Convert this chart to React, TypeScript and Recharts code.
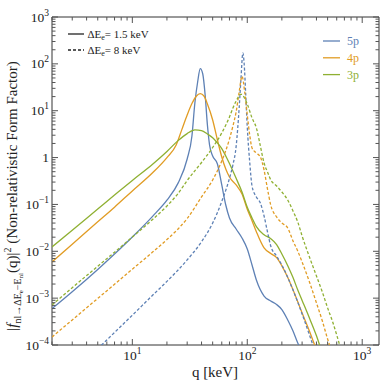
import React from 'react';
import { LineChart, Line, XAxis, YAxis, ReferenceArea } from 'recharts';

const BLUE = '#5E81B5';
const ORANGE = '#E19C24';
const GREEN = '#8FB032';

// ---- data: q [keV] and |f|^2 ----
// 5p, ΔE = 1.5 keV (solid)
const q5pA = [2, 3, 5, 7, 10, 15, 20, 25, 30, 33, 35, 37, 39, 41, 43, 45, 47, 50, 55, 60, 65, 70, 80, 90, 100, 110, 120, 140, 160, 180, 200, 225, 250, 275, 285];
const f5pA = [0.000596, 0.00137, 0.0041, 0.00875, 0.0202, 0.0557, 0.123, 0.285, 0.933, 2.89, 14.6, 41, 78.9, 60.8, 21.6, 4.96, 1.85, 1.08, 0.729, 0.26, 0.0973, 0.0514, 0.0299, 0.0192, 0.0112, 0.0051, 0.00244, 0.00111, 0.00087, 0.00073, 0.00057, 0.000342, 0.000199, 0.00011, 0.000091];
// 4p, ΔE = 1.5 keV (solid)
const q4pA = [2, 3, 5, 7, 10, 15, 20, 24, 27, 30, 33, 36, 39, 42, 45, 50, 55, 60, 65, 70, 80, 90, 100, 110, 120, 140, 160, 180, 200, 225, 250, 275, 300, 350, 380, 400];
const f4pA = [0.00592, 0.01416, 0.0425, 0.0873, 0.194, 0.473, 1.0, 1.83, 4.0, 8.1, 14.2, 20.4, 23.1, 20.6, 13.9, 6.34, 2.37, 1.03, 0.57, 0.385, 0.26, 0.167, 0.0791, 0.045, 0.0261, 0.0118, 0.00898, 0.0073, 0.00488, 0.00276, 0.00151, 0.000836, 0.000484, 0.000189, 0.00011, 0.000078];
// 3p, ΔE = 1.5 keV (solid)
const q3pA = [2, 3, 5, 7, 10, 15, 20, 25, 30, 35, 40, 45, 50, 55, 60, 65, 70, 80, 90, 100, 110, 120, 140, 160, 180, 200, 225, 250, 275, 300, 350, 400, 430];
const f3pA = [0.0124, 0.0282, 0.0797, 0.158, 0.325, 0.72, 1.35, 2.3, 3.25, 3.9, 3.75, 3.18, 2.65, 2.05, 1.55, 1.08, 0.744, 0.36, 0.184, 0.0869, 0.0514, 0.0335, 0.0225, 0.0186, 0.0139, 0.00875, 0.00493, 0.00275, 0.00149, 0.000895, 0.00036, 0.000157, 0.000093];
// 5p, ΔE = 8 keV (dashed)
const q5pB = [5, 7, 10, 15, 20, 30, 40, 50, 60, 70, 75, 80, 85, 88, 91.6, 94, 97, 100, 105, 110, 120, 130, 140, 150, 160, 180, 200, 250, 300, 350, 380];
const f5pB = [0.000083, 0.000185, 0.000433, 0.00115, 0.00228, 0.00655, 0.016, 0.040, 0.116, 0.36, 0.695, 1.73, 11.4, 45.3, 170.6, 99.3, 21.6, 4.5, 0.805, 0.248, 0.144, 0.107, 0.0567, 0.0258, 0.013, 0.0079, 0.0051, 0.00149, 0.00046, 0.000156, 0.000086];
// 4p, ΔE = 8 keV (dashed)
const q4pB = [2, 3, 5, 7, 10, 15, 20, 25, 30, 40, 50, 60, 70, 75, 80, 85, 90, 95, 100, 105, 110, 120, 130, 140, 150, 160, 180, 200, 225, 250, 275, 300, 350, 400, 450, 500, 530];
const f4pB = [0.000148, 0.000343, 0.000985, 0.00198, 0.00415, 0.0096, 0.0178, 0.03, 0.05, 0.145, 0.333, 0.845, 2.49, 4.72, 9.4, 25.1, 54, 25.1, 8.1, 3.03, 1.6, 1.25, 1.03, 0.543, 0.213, 0.0973, 0.054, 0.0402, 0.0314, 0.0166, 0.0101, 0.0059, 0.00211, 0.00079, 0.000326, 0.000134, 0.000086];
// 3p, ΔE = 8 keV (dashed)
const q3pB = [2, 3, 5, 7, 10, 15, 20, 25, 30, 40, 50, 60, 70, 75, 80, 84, 87, 90, 95, 100, 110, 120, 130, 140, 150, 160, 180, 200, 225, 250, 275, 300, 350, 400, 450, 500, 550, 600, 640];
const f3pB = [0.000715, 0.00167, 0.00479, 0.00957, 0.0202, 0.0477, 0.0927, 0.171, 0.324, 0.785, 1.64, 3.35, 7.35, 11.4, 16.1, 20.1, 22.4, 22.3, 18.2, 13.9, 7.0, 4.28, 1.77, 0.766, 0.492, 0.333, 0.248, 0.184, 0.124, 0.0724, 0.0422, 0.0212, 0.0072, 0.00297, 0.00135, 0.00062, 0.000326, 0.000164, 0.000095];

// ---- axes ----
const xDomain = [2, 1400];
const yDomain = [1e-4, 1e3];
const xMajor = [10, 100, 1000];
const xMajorExp = ['1', '2', '3'];
const yMajor = [1e-4, 1e-3, 1e-2, 1e-1, 1, 10, 100, 1000];
const yMajorExp = ['−4', '−3', '−2', '−1', '', '1', '2', '3'];
const minorMult = [2, 3, 4, 5, 6, 7, 8, 9];

const xTicks: number[] = [];
[1, 10, 100].forEach((d) => minorMult.forEach((m) => xTicks.push(m * d)));
xTicks.push(...xMajor);
xTicks.sort((a, b) => a - b);
const yTicks: number[] = [...yMajor];
yMajor.slice(0, -1).forEach((d) => minorMult.forEach((m) => yTicks.push(m * d)));
yTicks.sort((a, b) => a - b);

const mk = (qs: number[], vs: number[]) => qs.map((q, i) => ({ q, v: vs[i] }));

const series = [
  { name: '5p-a', data: mk(q5pA, f5pA), color: BLUE, dash: undefined },
  { name: '4p-a', data: mk(q4pA, f4pA), color: ORANGE, dash: undefined },
  { name: '3p-a', data: mk(q3pA, f3pA), color: GREEN, dash: undefined },
  { name: '5p-b', data: mk(q5pB, f5pB), color: BLUE, dash: '3 2' },
  { name: '4p-b', data: mk(q4pB, f4pB), color: ORANGE, dash: '3 2' },
  { name: '3p-b', data: mk(q3pB, f3pB), color: GREEN, dash: '3 2' },
];

const legendNames = ['5p', '4p', '3p'];
const legendColors = [BLUE, ORANGE, GREEN];

const W = 382;
const H = 384;
const M = { top: 17, right: 3, left: 0, bottom: 0 };
const YW = 52;
const XH = 39;
const PLOT_TOP = M.top;
const PLOT_RIGHT = W - M.right;
const FONT = '"Liberation Serif", "Times New Roman", serif';
const TICK = '#555';

const majorIdx = (arr: number[], v: number) =>
  arr.findIndex((m) => Math.abs(Math.log10(m) - Math.log10(v)) < 1e-6);

const XTick = (props: any) => {
  const { x, y, payload } = props;
  const i = majorIdx(xMajor, payload.value);
  const len = i >= 0 ? 6 : 3.5;
  return (
    <g>
      <line x1={x} x2={x} y1={y} y2={y - len} stroke={TICK} strokeWidth={1} />
      <line x1={x} x2={x} y1={PLOT_TOP} y2={PLOT_TOP + len} stroke={TICK} strokeWidth={1} />
      {i >= 0 && (
        <text x={x} y={y + 15} textAnchor="middle" fontFamily={FONT} fontSize={13.5} fill="#222">
          10
          <tspan dy={-6} fontSize={9.5}>{xMajorExp[i]}</tspan>
        </text>
      )}
    </g>
  );
};

const YTick = (props: any) => {
  const { x, y, payload } = props;
  const i = majorIdx(yMajor, payload.value);
  const len = i >= 0 ? 6 : 3.5;
  return (
    <g>
      <line x1={x} x2={x + len} y1={y} y2={y} stroke={TICK} strokeWidth={1} />
      <line x1={PLOT_RIGHT} x2={PLOT_RIGHT - len} y1={y} y2={y} stroke={TICK} strokeWidth={1} />
      {i >= 0 && (
        <text x={x - 3} y={y + 4.5} textAnchor="end" fontFamily={FONT} fontSize={13.5} fill="#222">
          {yMajorExp[i] === '' ? '1' : '10'}
          {yMajorExp[i] !== '' && <tspan dy={-6} fontSize={9.5}>{yMajorExp[i]}</tspan>}
        </text>
      )}
    </g>
  );
};

const Overlay = () => (
  <svg width={W} height={H} style={{ position: 'absolute', left: 0, top: 0, pointerEvents: 'none' }}>
    <g fontFamily={FONT} fill="#222">
      {/* y axis title */}
      <text transform="translate(17,196) rotate(-90)" textAnchor="middle" fontSize={15}>
        |<tspan fontStyle="italic">f</tspan>
        <tspan fontSize={10} dy={4}>nl→ΔE</tspan>
        <tspan fontSize={7} dy={2}>e</tspan>
        <tspan fontSize={10} dy={-2}>−E</tspan>
        <tspan fontSize={7} dy={2}>nl</tspan>
        <tspan fontSize={15} dy={-6}>(q)|</tspan>
        <tspan fontSize={10} dy={-6}>2</tspan>
        <tspan fontSize={15} dy={6}> (Non-relativistic Form Factor)</tspan>
      </text>
      {/* x axis title */}
      <text x={215} y={377} textAnchor="middle" fontSize={15}>q [keV]</text>
      {/* ΔE legend */}
      <line x1={68} x2={84} y1={34} y2={34} stroke="#222" strokeWidth={1.3} />
      <text x={87.5} y={37.5} fontSize={11}>
        ΔE<tspan fontSize={8} dy={2}>e</tspan><tspan dy={-2}>= 1.5 keV</tspan>
      </text>
      <line x1={68} x2={84} y1={50} y2={50} stroke="#222" strokeWidth={1.3} strokeDasharray="3 2" />
      <text x={87.5} y={53.5} fontSize={11}>
        ΔE<tspan fontSize={8} dy={2}>e</tspan><tspan dy={-2}>= 8 keV</tspan>
      </text>
      {/* orbital legend */}
      {legendNames.map((n, i) => (
        <g key={n}>
          <line x1={323} x2={340} y1={41 + i * 16.8} y2={41 + i * 16.8} stroke={legendColors[i]} strokeWidth={1.3} />
          <text x={347} y={45 + i * 16.8} fontSize={12} fill={legendColors[i]}>{n}</text>
        </g>
      ))}
    </g>
  </svg>
);

export default function App() {
  return (
    <div style={{ position: 'absolute', left: 0, top: 0, width: W, height: H }}>
      <LineChart width={W} height={H} margin={M}>
        <XAxis
          dataKey="q"
          type="number"
          scale="log"
          domain={xDomain}
          allowDataOverflow
          ticks={xTicks}
          interval={0}
          tickSize={0}
          tickMargin={0}
          tickLine={false}
          axisLine={false}
          height={XH}
          tick={<XTick />}
        />
        <YAxis
          type="number"
          scale="log"
          domain={yDomain}
          allowDataOverflow
          ticks={yTicks}
          interval={0}
          tickSize={0}
          tickMargin={0}
          tickLine={false}
          axisLine={false}
          width={YW}
          tick={<YTick />}
        />
        {series.map((s) => (
          <Line
            key={s.name}
            data={s.data}
            dataKey="v"
            type="monotone"
            stroke={s.color}
            strokeWidth={1.3}
            strokeDasharray={s.dash}
            dot={false}
            activeDot={false}
            isAnimationActive={false}
          />
        ))}
        <ReferenceArea x1={2} x2={1400} y1={1e-4} y2={1e3} fill="none" fillOpacity={0} stroke="#333" strokeWidth={1} ifOverflow="visible" />
      </LineChart>
      <Overlay />
    </div>
  );
}
